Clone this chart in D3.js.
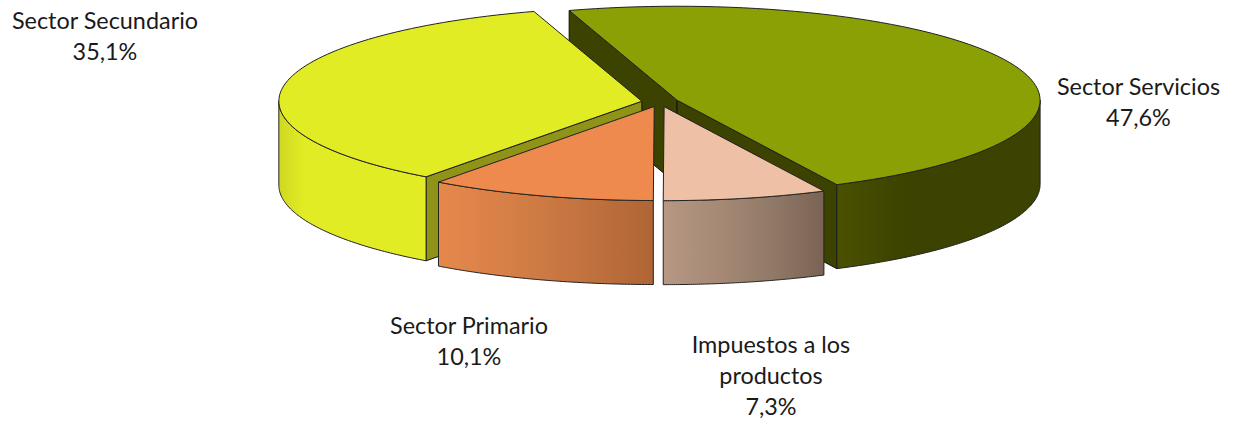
<!DOCTYPE html>
<html>
<head>
<meta charset="utf-8">
<script src="https://cdnjs.cloudflare.com/ajax/libs/d3/7.8.5/d3.min.js"></script>
<style>
  html, body { margin: 0; padding: 0; background: #fff; }
  svg { display: block; }
  text { font-family: Lato, "Open Sans", sans-serif; font-size: 23.4px; fill: #1a1a1a; }
</style>
</head>
<body>
<div id="chart"></div>
<script>
const categories = ['Sector Servicios', 'Impuestos a los productos', 'Sector Primario', 'Sector Secundario'];
const shares = [47.6, 7.3, 10.1, 35.1];

// label layout, one row per category
const labelLines = [['Sector Servicios'], ['Impuestos a los', 'productos'], ['Sector Primario'], ['Sector Secundario']];
const labelX = [1138.5, 771, 469, 105];
const labelY = [95, 353, 334, 29];

const topColors = ['#8aa005', '#eec0a6', '#ee8a4d', '#e1ec24'];
const faceColors = ['#3c4200', null, null, '#8f9419'];
const wallStops = [
  ['#4a5100', '#3c4200', '#3c4200', '#3c4200'],
  ['#b69883', '#a68a76', '#927a68', '#7a6354'],
  ['#e6884c', '#d67f47', '#c2733f', '#b06536'],
  ['#cfd722', '#e1ec24', '#e1ec24', '#e1ec24', '#e1ec24', '#e1ec24', '#e1ec24']
];

const width = 1234, height = 423;
const cx = 660, cy = 102;
const rx = 363, ry = 94, depth = 84, explode = 18.4;
const tilt = ry / rx;
const deg = Math.PI / 180;

const svg = d3.select('#chart').append('svg').attr('width', width).attr('height', height);
const defs = svg.append('defs');

const slices = d3.pie().sort(null).startAngle(-17.3 * deg).endAngle(342.7 * deg)(shares);

const line = d3.line();

function apex(s) {
  const mid = (s.startAngle + s.endAngle) / 2;
  return [cx + explode * Math.sin(mid), cy - explode * tilt * Math.cos(mid)];
}

function rim(s, a, drop) {
  const c = apex(s);
  return [c[0] + rx * Math.sin(a), c[1] - ry * Math.cos(a) + drop];
}

function arcPoints(s, a0, a1, drop) {
  return d3.range(0, 81).map((i) => rim(s, a0 + (a1 - a0) * i / 80, drop));
}

function drawFace(g, s, a, color) {
  const c = apex(s);
  const p = rim(s, a, 0);
  const q = rim(s, a, depth);
  g.append('path')
    .attr('d', line([c, p, q, [c[0], c[1] + depth]]) + 'Z')
    .attr('fill', color)
    .attr('stroke', '#111')
    .attr('stroke-width', 1)
    .attr('stroke-linejoin', 'round');
}

function drawWall(g, s, i) {
  const a0 = Math.max(s.startAngle, 90 * deg);
  const a1 = Math.min(s.endAngle, 270 * deg);
  const top = arcPoints(s, a0, a1, 0);
  const bottom = arcPoints(s, a1, a0, depth);
  const xs = top.map((d) => d[0]);
  const id = 'wall' + i;
  const grad = defs.append('linearGradient')
    .attr('id', id)
    .attr('gradientUnits', 'userSpaceOnUse')
    .attr('x1', d3.min(xs)).attr('x2', d3.max(xs))
    .attr('y1', 0).attr('y2', 0);
  // stops run left to right on screen
  wallStops[i].forEach((c, k) => {
    grad.append('stop').attr('offset', k / (wallStops[i].length - 1)).attr('stop-color', c);
  });
  g.append('path')
    .attr('d', line(top.concat(bottom)) + 'Z')
    .attr('fill', `url(#${id})`)
    .attr('stroke', '#222')
    .attr('stroke-width', 1)
    .attr('stroke-linejoin', 'round');
}

function drawTop(g, s, i) {
  const pts = [apex(s)].concat(arcPoints(s, s.startAngle, s.endAngle, 0));
  g.append('path')
    .attr('d', line(pts) + 'Z')
    .attr('fill', topColors[i])
    .attr('stroke', '#222')
    .attr('stroke-width', 1)
    .attr('stroke-linejoin', 'round');
}

// back to front: servicios, secundario, then the two front slices
[0, 3, 2, 1].forEach((i) => {
  const s = slices[i];
  const g = svg.append('g').attr('class', 'slice');
  if (i === 0) {
    drawFace(g, s, s.startAngle, faceColors[0]);
    drawFace(g, s, s.endAngle, faceColors[0]);
  }
  if (i === 3) drawFace(g, s, s.startAngle, faceColors[3]);
  drawWall(g, s, i);
  drawTop(g, s, i);
});

const pct = (v) => v.toFixed(1).replace('.', ',') + '%';

categories.forEach((c, i) => {
  const t = svg.append('text').attr('text-anchor', 'middle');
  labelLines[i].concat([pct(shares[i])]).forEach((txt, k) => {
    t.append('tspan').attr('x', labelX[i]).attr('y', labelY[i] + k * 31).text(txt);
  });
});
</script>
</body>
</html>
